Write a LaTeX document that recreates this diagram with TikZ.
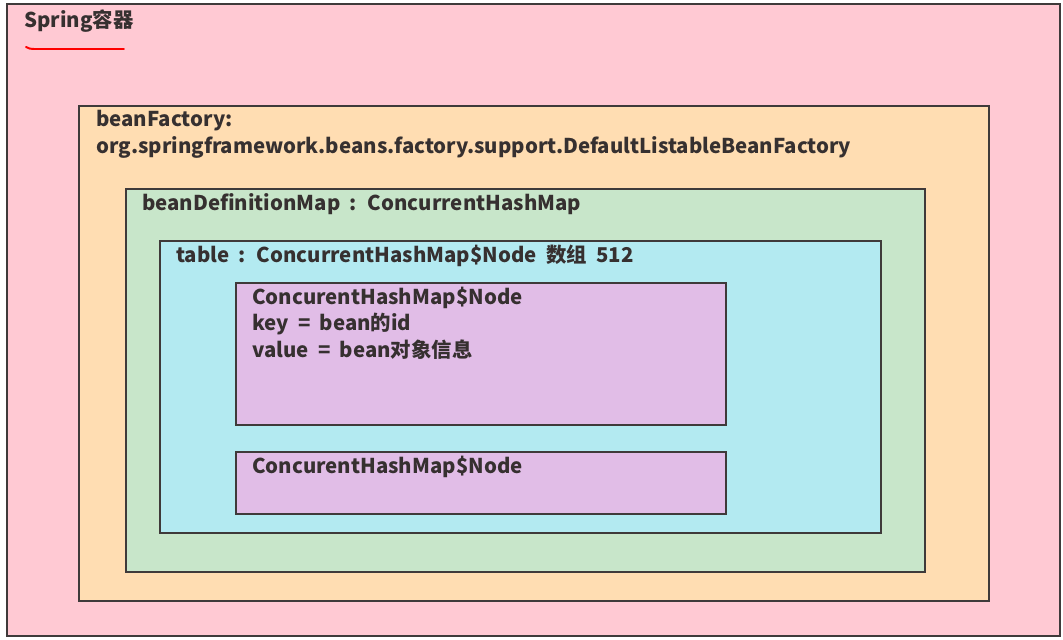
\documentclass[tikz,border=0pt]{standalone}
\usepackage{fontspec}
\setmainfont{Noto Sans CJK SC}[WordSpace=2]
\usepackage[HTML]{xcolor}
\usetikzlibrary{positioning}

\definecolor{springpink}{HTML}{FFC9D3}
\definecolor{factorypeach}{HTML}{FFDDB2}
\definecolor{mapgreen}{HTML}{C8E6CA}
\definecolor{tablecyan}{HTML}{B3EAF1}
\definecolor{nodeviolet}{HTML}{E1BDE7}
\definecolor{boxline}{HTML}{3F3A3A}
\definecolor{labeltext}{HTML}{363030}

\begin{document}
\begin{tikzpicture}[x=0.025cm,y=-0.025cm,
  box/.style={draw=boxline,line width=1.9pt},
  lbl/.style={anchor=west,inner sep=0pt,text=labeltext,font=\fontsize{14.5pt}{17pt}\selectfont\bfseries,align=left}]
\useasboundingbox (0,0) rectangle (1063,639);

% nested boxes
\filldraw[box,fill=springpink] (7,4) rectangle (1060,636);
\filldraw[box,fill=factorypeach] (79,106) rectangle (989,601);
\filldraw[box,fill=mapgreen] (126,189) rectangle (925,572);
\filldraw[box,fill=tablecyan] (160,241) rectangle (881,533);
\filldraw[box,fill=nodeviolet] (236,283) rectangle (726,425);
\filldraw[box,fill=nodeviolet] (236,452) rectangle (726,514);

% labels
\node[lbl] (spring) at (24,21) {Spring容器};
\draw[red,line width=1.4pt,line cap=round] (26,47) to[out=-30,in=180] (34,49) -- (124,49);
\node[lbl] (factory) at (96,121) {beanFactory:};
\node[lbl] (factoryclass) at (96,147) {org.springframework.beans.factory.support.DefaultListableBeanFactory};
\node[lbl] (defmap) at (142,204) {beanDefinitionMap : ConcurrentHashMap};
\node[lbl] (table) at (176,256) {table : ConcurrentHashMap\$Node 数组 512};
\node[lbl] (node1) at (252,298) {ConcurentHashMap\$Node};
\node[lbl] (node1key) at (252,324) {key = bean的id};
\node[lbl] (node1val) at (252,350) {value = bean对象信息};
\node[lbl] (node2) at (252,467) {ConcurentHashMap\$Node};
\end{tikzpicture}
\end{document}
